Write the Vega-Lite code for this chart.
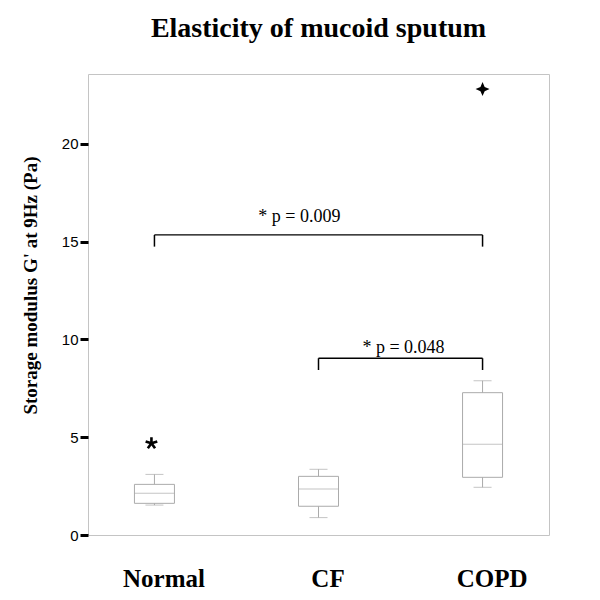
{
  "$schema": "https://vega.github.io/schema/vega-lite/v6.json",
  "width": 461,
  "height": 461,
  "autosize": "none",
  "padding": {"left": 88, "top": 74, "right": 51, "bottom": 65},
  "background": "white",
  "config": {"view": {"stroke": "#c4c4c4", "strokeWidth": 1}, "axis": {"grid": false}},
  "title": {"text": "Elasticity of mucoid sputum", "font": "Liberation Serif", "fontSize": 28, "fontWeight": "bold", "color": "black", "anchor": "middle", "baseline": "alphabetic", "offset": 9},
  "datasets": {
    "boxes": [
      {"group": "Normal", "min": 1.53, "q1": 1.62, "median": 2.13, "q3": 2.59, "max": 3.10},
      {"group": "CF", "min": 0.89, "q1": 1.47, "median": 2.35, "q3": 3.00, "max": 3.36},
      {"group": "COPD", "min": 2.44, "q1": 2.95, "median": 4.64, "q3": 7.28, "max": 7.89}
    ],
    "outliers": [
      {"group": "Normal", "value": 4.69, "kind": "asterisk"},
      {"group": "COPD", "value": 22.81, "kind": "star"}
    ],
    "brackets": [
      {"from": "Normal", "to": "COPD", "top": 15.35, "foot": 14.75, "label": "* p = 0.009", "labelY": 16.0},
      {"from": "CF", "to": "COPD", "top": 9.04, "foot": 8.44, "label": "* p = 0.048", "labelY": 9.29}
    ]
  },
  "layer": [
    {
      "data": {"name": "boxes"},
      "mark": {"type": "rule", "color": "#ababab", "strokeWidth": 1},
      "encoding": {
        "x": {"field": "group", "type": "nominal", "title": null,
          "scale": {"type": "point", "domain": ["Normal", "CF", "COPD"], "padding": 0.405},
          "axis": {"orient": "bottom", "ticks": false, "tickSize": 0, "domain": false, "labelFont": "Liberation Serif", "labelFontSize": 25, "labelFontWeight": "bold", "labelColor": "black", "labelPadding": 31, "labelOffset": 9, "labelAngle": 0, "title": null}},
        "y": {"field": "min", "type": "quantitative",
          "scale": {"domain": [0, 23.58], "nice": false, "zero": true},
          "axis": {"values": [0, 5, 10, 15, 20], "domain": false, "ticks": true, "tickColor": "black", "tickWidth": 3, "tickSize": 8, "labelFont": "Liberation Sans", "labelFontSize": 15, "labelColor": "black", "labelPadding": 2, "title": "Storage modulus G' at 9Hz (Pa)", "titleFont": "Liberation Serif", "titleFontSize": 19, "titleFontWeight": "bold", "titleColor": "black", "titleX": -58, "titleY": 211, "titleAngle": -90, "titleAlign": "center", "titleBaseline": "middle"}},
        "y2": {"field": "max"}
      }
    },
    {
      "data": {"name": "boxes"},
      "mark": {"type": "bar", "fill": "white", "stroke": "#ababab", "strokeWidth": 1, "size": 40},
      "encoding": {
        "x": {"field": "group", "type": "nominal", "title": null},
        "y": {"field": "q1", "type": "quantitative"},
        "y2": {"field": "q3"}
      }
    },
    {
      "data": {"name": "boxes"},
      "mark": {"type": "tick", "color": "#ababab", "size": 40, "thickness": 1, "orient": "horizontal"},
      "encoding": {
        "x": {"field": "group", "type": "nominal", "title": null},
        "y": {"field": "median", "type": "quantitative"}
      }
    },
    {
      "data": {"name": "boxes"},
      "mark": {"type": "tick", "color": "#ababab", "size": 18, "thickness": 1, "orient": "horizontal"},
      "encoding": {
        "x": {"field": "group", "type": "nominal", "title": null},
        "y": {"field": "max", "type": "quantitative"}
      }
    },
    {
      "data": {"name": "boxes"},
      "mark": {"type": "tick", "color": "#ababab", "size": 18, "thickness": 1, "orient": "horizontal"},
      "encoding": {
        "x": {"field": "group", "type": "nominal", "title": null},
        "y": {"field": "min", "type": "quantitative"}
      }
    },
    {
      "data": {"name": "outliers"},
      "transform": [{"filter": "datum.kind === 'asterisk'"}],
      "mark": {"type": "point", "shape": "M0,0L0,-1M0,0L0.951,-0.309M0,0L0.588,0.809M0,0L-0.588,0.809M0,0L-0.951,-0.309", "filled": false, "stroke": "black", "strokeWidth": 2.6, "size": 150, "opacity": 1, "xOffset": -3},
      "encoding": {
        "x": {"field": "group", "type": "nominal", "title": null},
        "y": {"field": "value", "type": "quantitative"}
      }
    },
    {
      "data": {"name": "outliers"},
      "transform": [{"filter": "datum.kind === 'star'"}],
      "mark": {"type": "point", "shape": "M0,-1L0.3,-0.3L1,0L0.3,0.3L0,1L-0.3,0.3L-1,0L-0.3,-0.3Z", "filled": true, "fill": "black", "size": 196, "opacity": 1},
      "encoding": {
        "x": {"field": "group", "type": "nominal", "title": null},
        "y": {"field": "value", "type": "quantitative"}
      }
    },
    {
      "data": {"name": "brackets"},
      "mark": {"type": "rule", "color": "black", "strokeWidth": 1.3},
      "encoding": {
        "x": {"field": "from", "type": "nominal", "title": null},
        "x2": {"field": "to"},
        "y": {"field": "top", "type": "quantitative"}
      }
    },
    {
      "data": {"name": "brackets"},
      "mark": {"type": "rule", "color": "black", "strokeWidth": 1.5},
      "encoding": {
        "x": {"field": "from", "type": "nominal", "title": null},
        "y": {"field": "top", "type": "quantitative"},
        "y2": {"field": "foot"}
      }
    },
    {
      "data": {"name": "brackets"},
      "mark": {"type": "rule", "color": "black", "strokeWidth": 1.5},
      "encoding": {
        "x": {"field": "to", "type": "nominal", "title": null},
        "y": {"field": "top", "type": "quantitative"},
        "y2": {"field": "foot"}
      }
    },
    {
      "data": {"name": "brackets"},
      "transform": [{"filter": "datum.from === 'Normal'"}],
      "mark": {"type": "text", "font": "Liberation Serif", "fontSize": 18, "color": "black", "align": "center", "baseline": "alphabetic", "dx": 145},
      "encoding": {
        "x": {"field": "from", "type": "nominal", "title": null},
        "y": {"field": "labelY", "type": "quantitative"},
        "text": {"field": "label"}
      }
    },
    {
      "data": {"name": "brackets"},
      "transform": [{"filter": "datum.from === 'CF'"}],
      "mark": {"type": "text", "font": "Liberation Serif", "fontSize": 18, "color": "black", "align": "center", "baseline": "alphabetic", "dx": 85},
      "encoding": {
        "x": {"field": "from", "type": "nominal", "title": null},
        "y": {"field": "labelY", "type": "quantitative"},
        "text": {"field": "label"}
      }
    }
  ]
}
